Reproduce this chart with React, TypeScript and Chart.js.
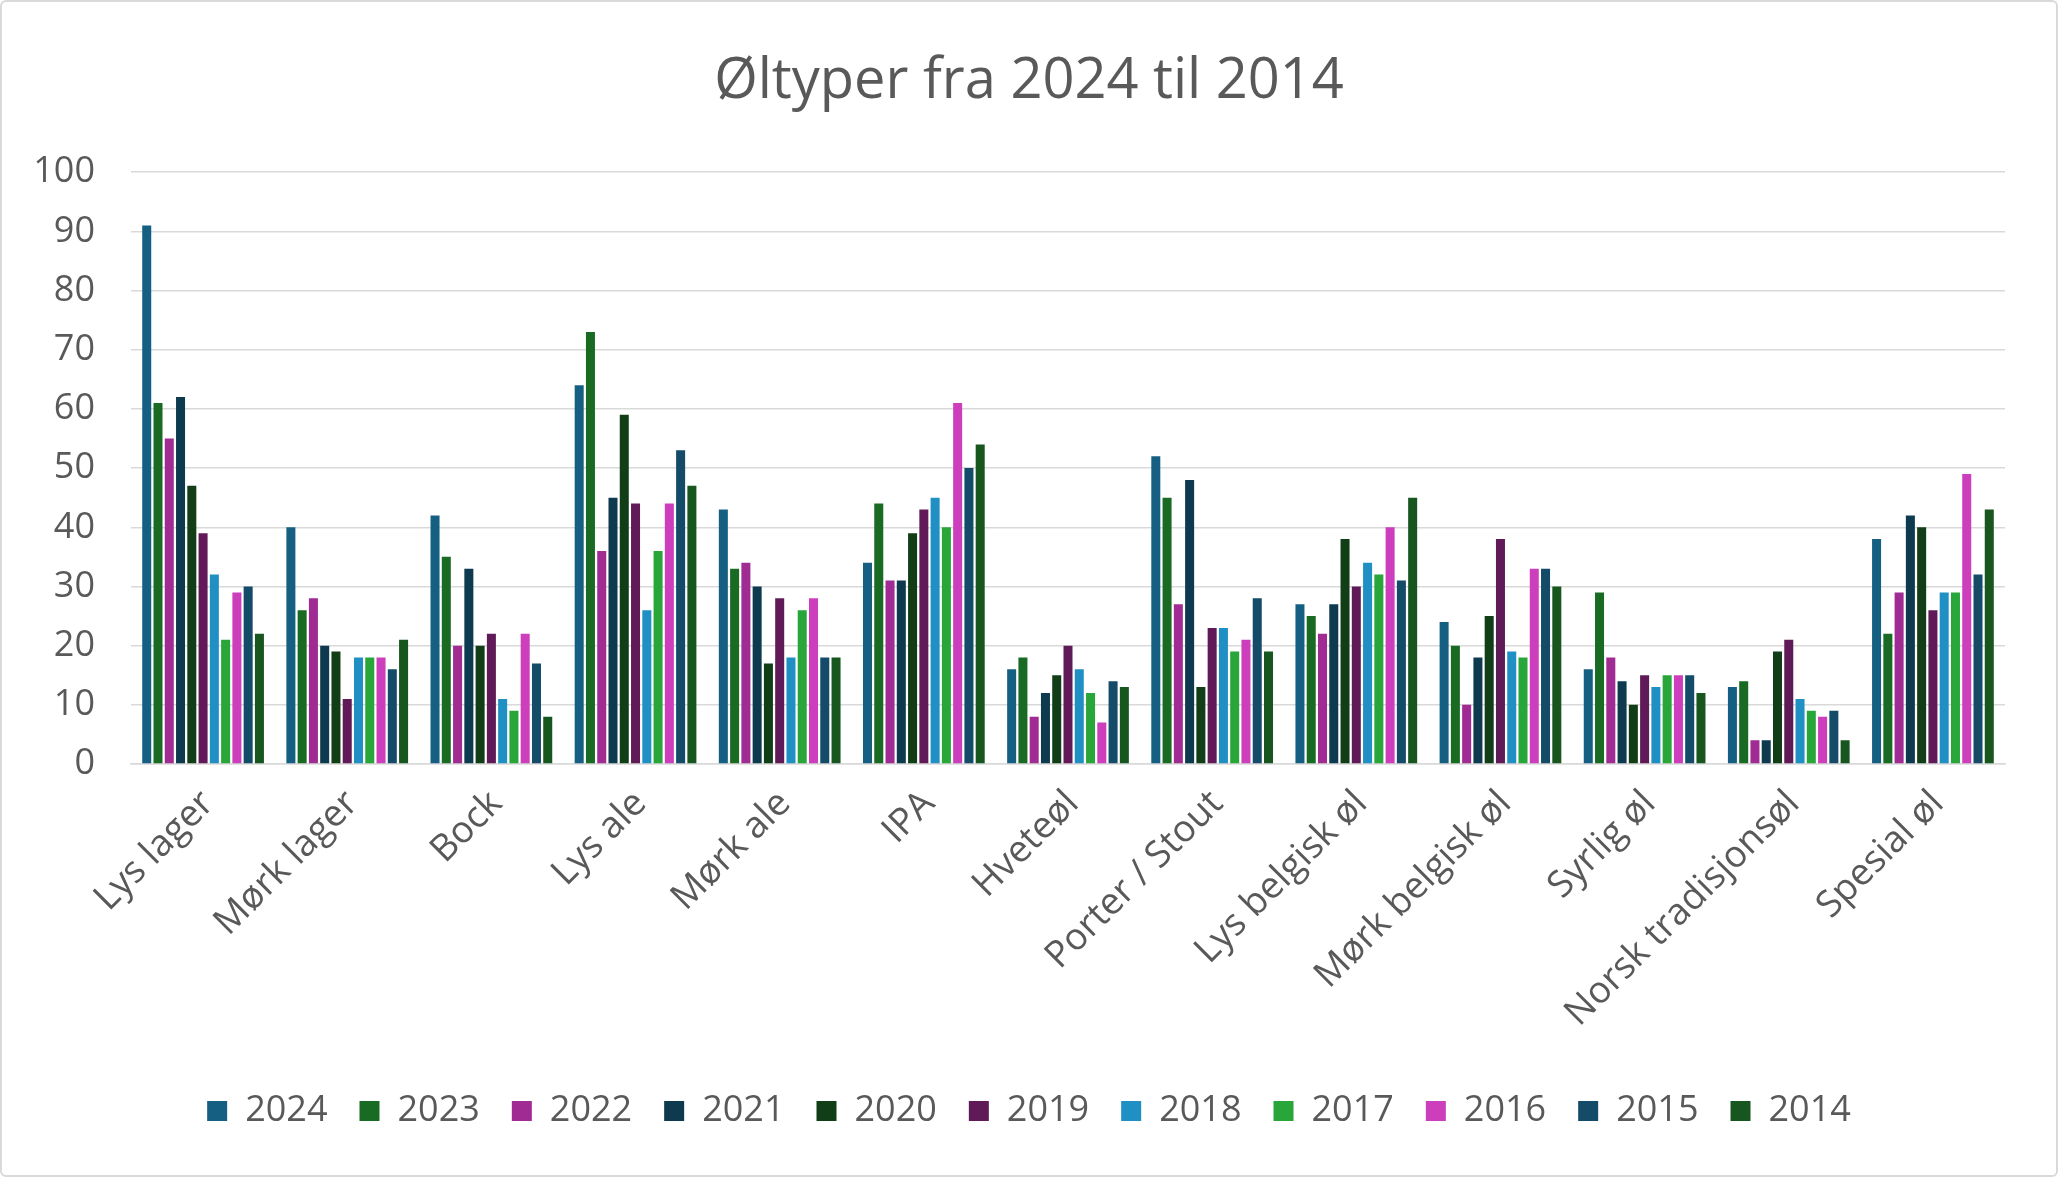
import React, { useEffect, useRef } from "react";
import { Chart, registerables } from "chart.js";

Chart.register(...registerables);

const categories = [
  "Lys lager",
  "Mørk lager",
  "Bock",
  "Lys ale",
  "Mørk ale",
  "IPA",
  "Hveteøl",
  "Porter / Stout",
  "Lys belgisk øl",
  "Mørk belgisk øl",
  "Syrlig øl",
  "Norsk tradisjonsøl",
  "Spesial øl",
];

const years = ["2024", "2023", "2022", "2021", "2020", "2019", "2018", "2017", "2016", "2015", "2014"];

const y2024 = [91, 40, 42, 64, 43, 34, 16, 52, 27, 24, 16, 13, 38];
const y2023 = [61, 26, 35, 73, 33, 44, 18, 45, 25, 20, 29, 14, 22];
const y2022 = [55, 28, 20, 36, 34, 31, 8, 27, 22, 10, 18, 4, 29];
const y2021 = [62, 20, 33, 45, 30, 31, 12, 48, 27, 18, 14, 4, 42];
const y2020 = [47, 19, 20, 59, 17, 39, 15, 13, 38, 25, 10, 19, 40];
const y2019 = [39, 11, 22, 44, 28, 43, 20, 23, 30, 38, 15, 21, 26];
const y2018 = [32, 18, 11, 26, 18, 45, 16, 23, 34, 19, 13, 11, 29];
const y2017 = [21, 18, 9, 36, 26, 40, 12, 19, 32, 18, 15, 9, 29];
const y2016 = [29, 18, 22, 44, 28, 61, 7, 21, 40, 33, 15, 8, 49];
const y2015 = [30, 16, 17, 53, 18, 50, 14, 28, 31, 33, 15, 9, 32];
const y2014 = [22, 21, 8, 47, 18, 54, 13, 19, 45, 30, 12, 4, 43];

const seriesValues = [y2024, y2023, y2022, y2021, y2020, y2019, y2018, y2017, y2016, y2015, y2014];

const colors = [
  "#156082",
  "#196B24",
  "#A02B93",
  "#0E3A4F",
  "#113E16",
  "#5F1A57",
  "#1F8FC4",
  "#28A639",
  "#CC3EBC",
  "#134B69",
  "#17561E",
];

const yTicks = [0, 10, 20, 30, 40, 50, 60, 70, 80, 90, 100];

const W = 2058;
const H = 1177;
const FONT = "'Open Sans', 'Liberation Sans', sans-serif";
const TEXT = "#595959";
const GRID = "#d9d9d9";

export default function App() {
  const ref = useRef<HTMLCanvasElement | null>(null);

  useEffect(() => {
    if (!ref.current) return;
    const chart = new Chart(ref.current, {
      type: "bar",
      data: {
        labels: categories,
        datasets: years.map((y, i) => ({
          label: y,
          data: seriesValues[i],
          backgroundColor: colors[i],
          borderWidth: 0,
          categoryPercentage: 0.86,
          barPercentage: 0.8,
        })),
      },
      options: {
        animation: false,
        responsive: true,
        maintainAspectRatio: false,
        devicePixelRatio: 1,
        layout: { padding: { left: 0, right: 0, top: 0, bottom: 38 } },
        plugins: {
          title: {
            display: true,
            text: "Øltyper fra 2024 til 2014",
            color: TEXT,
            font: { family: FONT, size: 56, weight: "normal" },
            padding: { top: 48, bottom: 57 },
          },
          legend: {
            display: true,
            position: "bottom",
            labels: {
              color: TEXT,
              font: { family: FONT, size: 36 },
              boxWidth: 20,
              boxHeight: 20,
              padding: 32,
            },
          },
          tooltip: { enabled: false },
        },
        scales: {
          x: {
            grid: { display: false, drawTicks: false },
            border: { display: true, color: GRID, width: 1.5 },
            ticks: {
              color: TEXT,
              font: { family: FONT, size: 37 },
              maxRotation: 45,
              minRotation: 45,
              autoSkip: false,
              padding: 18,
              labelOffset: 5,
            },
            afterFit: (scale: any) => {
              scale.height = 297;
            },
          },
          y: {
            min: 0,
            max: 100,
            afterBuildTicks: (scale: any) => {
              scale.ticks = yTicks.map((v) => ({ value: v }));
            },
            grid: { color: GRID, lineWidth: 1.5, drawTicks: false },
            border: { display: false },
            ticks: {
              color: TEXT,
              font: { family: FONT, size: 36 },
              padding: 36,
            },
            afterFit: (scale: any) => {
              scale.width = 131;
            },
          },
          yRight: {
            position: "right",
            display: true,
            grid: { display: false, drawTicks: false },
            border: { display: false },
            ticks: { display: false },
            afterFit: (scale: any) => {
              scale.width = 53;
            },
          },
        },
      } as any,
    });
    return () => chart.destroy();
  }, []);

  return (
    <div
      style={{
        position: "fixed",
        left: 0,
        top: 0,
        width: W,
        height: H,
        background: "#ffffff",
      }}
    >
      <canvas ref={ref} width={W} height={H} />
      <div
        style={{
          position: "absolute",
          left: 0,
          top: 0,
          width: W,
          height: H,
          boxSizing: "border-box",
          border: "2px solid #d9d9d9",
          borderRadius: 6,
          pointerEvents: "none",
        }}
      />
    </div>
  );
}
